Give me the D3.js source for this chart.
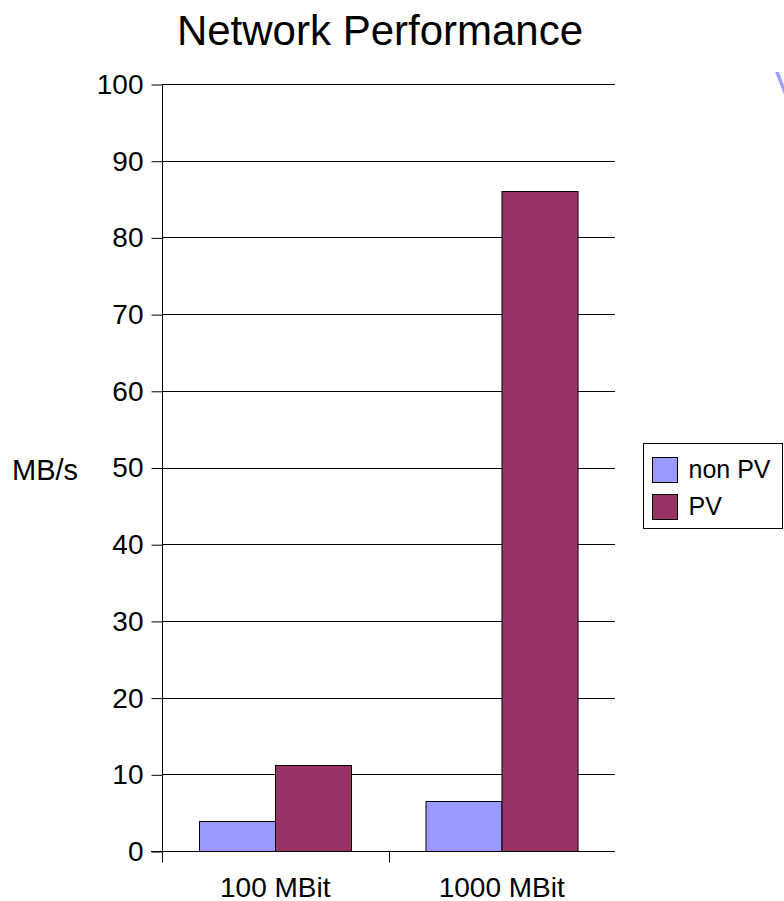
<!DOCTYPE html>
<html>
<head>
<meta charset="utf-8">
<script src="https://cdn.jsdelivr.net/npm/d3@7"></script>
<style>
  html, body { margin: 0; padding: 0; background: #fff; }
  svg { display: block; font-family: "Liberation Sans", Arial, sans-serif; }
</style>
</head>
<body>
<svg id="chart" width="784" height="901"></svg>
<script>
// Chart data
const categories = ["100 MBit", "1000 MBit"];
const seriesNames = ["non PV", "PV"];
const nonPV = [3.9, 6.5];
const pv = [11.2, 86.0];
const yTicks = [0, 10, 20, 30, 40, 50, 60, 70, 80, 90, 100];
const seriesColors = ["#9999ff", "#993366"];

const seriesValues = [nonPV, pv];

const svg = d3.select("#chart");

const plot = { left: 162, right: 615, top: 84, bottom: 851 };

const x0 = d3.scaleBand()
  .domain(categories)
  .range([plot.left, plot.right])
  .paddingInner(0)
  .paddingOuter(0);

const x1 = d3.scaleBand()
  .domain(seriesNames)
  .range([0, x0.bandwidth()])
  .paddingInner(0)
  .paddingOuter(0.49);

const y = d3.scaleLinear()
  .domain([0, 100])
  .range([plot.bottom, plot.top]);

// Title
svg.append("text")
  .attr("x", 380)
  .attr("y", 45)
  .attr("text-anchor", "middle")
  .attr("font-size", 42)
  .attr("fill", "#000")
  .text("Network Performance");

// Horizontal gridlines
svg.append("g")
  .selectAll("line")
  .data(yTicks.filter(t => t > 0))
  .join("line")
  .attr("x1", plot.left)
  .attr("x2", plot.right)
  .attr("y1", d => Math.round(y(d)) + 0.5)
  .attr("y2", d => Math.round(y(d)) + 0.5)
  .attr("stroke", "#000")
  .attr("stroke-width", 1);

// Bars
const groups = svg.append("g")
  .selectAll("g")
  .data(categories)
  .join("g")
  .attr("transform", d => `translate(${x0(d)},0)`);

groups.selectAll("rect")
  .data((c, i) => seriesNames.map((s, j) => ({ s, j, v: seriesValues[j][i] })))
  .join("rect")
  .attr("x", d => Math.round(x1(d.s)) + 0.5)
  .attr("y", d => Math.round(y(d.v)) + 0.5)
  .attr("width", x1.bandwidth())
  .attr("height", d => Math.round(y(0)) - Math.round(y(d.v)))
  .attr("fill", d => seriesColors[d.j])
  .attr("stroke", "#000")
  .attr("stroke-width", 1);

// Y axis
const yAxis = d3.axisLeft(y)
  .tickValues(yTicks)
  .tickSize(11)
  .tickPadding(8)
  .tickFormat(d3.format("d"));

const gy = svg.append("g")
  .attr("transform", `translate(${plot.left + 0.5},0.5)`)
  .call(yAxis);
gy.select(".domain").attr("stroke", "#000").attr("d", `M0,${plot.top}V${plot.bottom}`);
gy.selectAll(".tick line").attr("stroke", "#000");
gy.selectAll(".tick text")
  .attr("font-size", 28)
  .attr("font-family", "Liberation Sans, Arial, sans-serif")
  .attr("fill", "#000");

// X axis: baseline plus boundary ticks between categories
const gx = svg.append("g").attr("transform", `translate(0,${plot.bottom + 0.5})`);
gx.append("line")
  .attr("x1", plot.left - 11)
  .attr("x2", plot.right)
  .attr("stroke", "#000");
const boundaries = [x0(categories[0]), x0(categories[1])];
gx.selectAll("line.bt")
  .data(boundaries)
  .join("line")
  .attr("class", "bt")
  .attr("x1", d => Math.round(d) + 0.5)
  .attr("x2", d => Math.round(d) + 0.5)
  .attr("y1", 0)
  .attr("y2", 11)
  .attr("stroke", "#000");
gx.selectAll("text")
  .data(categories)
  .join("text")
  .attr("x", d => x0(d) + x0.bandwidth() / 2)
  .attr("y", 45)
  .attr("text-anchor", "middle")
  .attr("font-size", 28)
  .attr("fill", "#000")
  .text(d => d);

// Y axis title
svg.append("text")
  .attr("x", 45)
  .attr("y", 480)
  .attr("text-anchor", "middle")
  .attr("font-size", 29)
  .attr("fill", "#000")
  .text("MB/s");

// Legend
const legend = svg.append("g").attr("transform", "translate(643.5,443.5)");
legend.append("rect")
  .attr("width", 139)
  .attr("height", 85)
  .attr("fill", "#fff")
  .attr("stroke", "#000");
const items = legend.selectAll("g.item")
  .data(seriesNames)
  .join("g")
  .attr("class", "item")
  .attr("transform", (d, i) => `translate(9,${14 + i * 37})`);
items.append("rect")
  .attr("width", 25)
  .attr("height", 25)
  .attr("fill", (d, i) => seriesColors[i])
  .attr("stroke", "#000");
items.append("text")
  .attr("x", 36)
  .attr("y", 20)
  .attr("font-size", 25)
  .attr("fill", "#000")
  .text(d => d);

// Partly visible letter at the top right edge
svg.append("text")
  .attr("x", 775)
  .attr("y", 98)
  .attr("font-size", 36)
  .attr("fill", "#9c9cff")
  .text("V");
</script>
</body>
</html>
